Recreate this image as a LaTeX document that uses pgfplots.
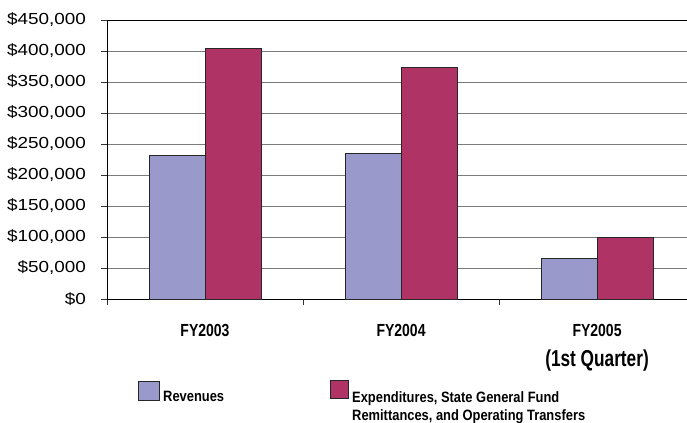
\documentclass[border=0pt]{standalone}
\usepackage{pgfplots}
\pgfplotsset{compat=1.18}
\usepackage{pgfplotstable}
\usepackage{fontspec}
\setmainfont{Liberation Sans}
\newfontfamily\tickfont[FakeStretch=1.18]{Liberation Sans}
\newfontfamily\fyfont[FakeStretch=0.8]{Liberation Sans}
\newfontfamily\qfont[FakeStretch=0.75]{Liberation Sans}
\newfontfamily\legfont[FakeStretch=0.86]{Liberation Sans}
\definecolor{rev}{HTML}{9999CC}
\definecolor{expc}{HTML}{B03366}
\definecolor{gridc}{HTML}{7A7A7A}

\pgfplotstableread{
x rev exp
0 232000 404000
1 234000 374000
2 65600 99000
}\data

\begin{document}
\begin{tikzpicture}[x=1bp,y=1bp]
\useasboundingbox (0,0) rectangle (687,422);
\begin{axis}[
  at={(107bp,123bp)}, anchor=south west,
  scale only axis, width=580bp, height=279bp,
  xmin=-0.5, xmax=2.459, ymin=0, ymax=450000,
  ybar=0pt, bar width=56bp,
  axis x line*=bottom, axis y line*=left,
  axis line style={black, line width=0.9bp},
  scaled y ticks=false,
  ytick={0,50000,100000,150000,200000,250000,300000,350000,400000,450000},
  yticklabels={{\$0},{\$50,000},{\$100,000},{\$150,000},{\$200,000},{\$250,000},{\$300,000},{\$350,000},{\$400,000},{\$450,000}},
  extra y ticks={450000},
  extra y tick labels={},
  extra y tick style={grid style={black, line width=1bp}, major tick length=0pt},
  ymajorgrids, grid style={gridc, line width=0.9bp},
  xtick={-0.5,0.5,1.5,2.5}, xticklabels={},
  tick align=outside, major tick length=6bp,
  tick style={black!80, line width=0.9bp},
  yticklabel style={font=\tickfont\fontsize{16bp}{19bp}\selectfont, anchor=east, inner sep=0pt, xshift=-15bp},
  clip=false,
]
\addplot[fill=rev, draw=black!85, line width=1bp] table[x=x,y=rev]{\data};
\addplot[fill=expc, draw=black!85, line width=1bp] table[x=x,y=exp]{\data};
\node[anchor=base, inner sep=0pt, yshift=-37.7bp, font=\fyfont\bfseries\fontsize{17.5bp}{20bp}\selectfont] at (axis cs:0,0) {FY2003};
\node[anchor=base, inner sep=0pt, yshift=-37.7bp, font=\fyfont\bfseries\fontsize{17.5bp}{20bp}\selectfont] at (axis cs:1,0) {FY2004};
\node[anchor=base, inner sep=0pt, yshift=-37.7bp, font=\fyfont\bfseries\fontsize{17.5bp}{20bp}\selectfont] at (axis cs:2,0) {FY2005};
\node[anchor=base, inner sep=0pt, yshift=-67bp, font=\qfont\bfseries\fontsize{23bp}{26bp}\selectfont] at (axis cs:2,0) {(1st Quarter)};
\end{axis}
\filldraw[fill=rev, draw=black!85, line width=1bp] (138,22) rectangle (159,41);
\node[anchor=base west, inner sep=0pt, font=\legfont\bfseries\fontsize{15bp}{18bp}\selectfont] at (163,21) {Revenues};
\filldraw[fill=expc, draw=black!85, line width=1bp] (330,24) rectangle (348,42);
\node[anchor=base west, inner sep=0pt, font=\legfont\bfseries\fontsize{15bp}{18bp}\selectfont] at (352,20) {Expenditures, State General Fund};
\node[anchor=base west, inner sep=0pt, font=\legfont\bfseries\fontsize{15bp}{18bp}\selectfont] at (352,2) {Remittances, and Operating Transfers};
\end{tikzpicture}
\end{document}
